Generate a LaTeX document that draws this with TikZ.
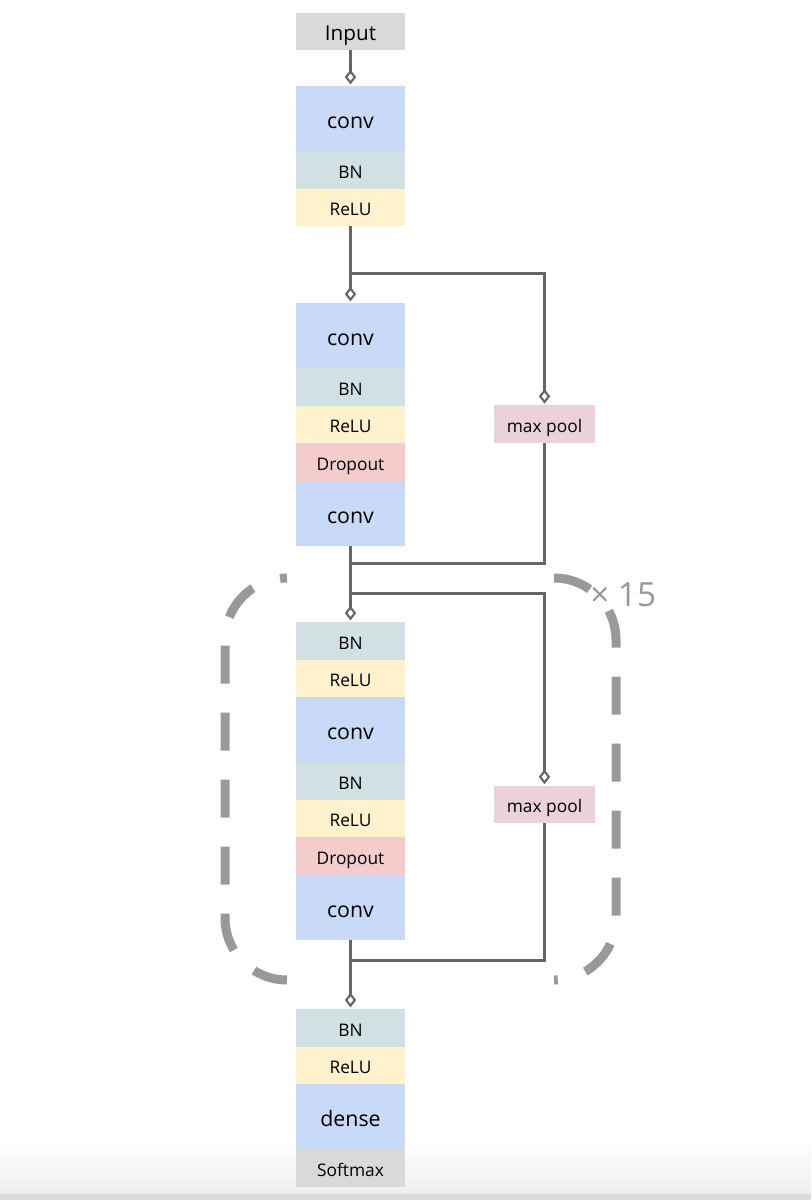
\documentclass[tikz,border=0pt]{standalone}
\usepackage{fontspec}
\setmainfont{Open Sans}
\usetikzlibrary{arrows.meta,positioning}
\definecolor{cconv}{HTML}{C9DAF8}
\definecolor{cbn}{HTML}{D0E0E3}
\definecolor{crelu}{HTML}{FFF2CC}
\definecolor{cdrop}{HTML}{F4CCCC}
\definecolor{cpool}{HTML}{EAD1DC}
\definecolor{cgrey}{HTML}{D9D9D9}
\definecolor{clink}{HTML}{666666}
\definecolor{crep}{HTML}{999999}
\definecolor{cfade}{HTML}{EEEEEE}
\definecolor{cedge}{HTML}{DCDCDC}

\begin{document}
\begin{tikzpicture}[x=0.75pt,y=-0.75pt,
    lay/.style={inner sep=0pt,outer sep=0pt,minimum width=81.75pt,
                minimum height=28.125pt,text height=12.5pt,text depth=0pt,
                font=\fontsize{13}{15}\selectfont},
    big/.style={lay,minimum height=48.75pt,fill=cconv,text height=15pt,
                font=\fontsize{16}{19}\selectfont},
    bnl/.style={lay,fill=cbn},
    relul/.style={lay,fill=crelu},
    dropl/.style={lay,fill=cdrop},
    greyl/.style={lay,fill=cgrey},
    pooll/.style={lay,fill=cpool,minimum width=75.75pt},
    link/.style={draw=clink,line width=2.25pt},
    feed/.style={link,-{Diamond[open,length=11pt,width=8.5pt,line width=1.6pt]},
                 shorten >=1.2pt},
    repbox/.style={draw=crep,line width=6.75pt,rounded corners=46.5pt,
                   dash pattern=on 28.5pt off 21.75pt}]
    \useasboundingbox (0,0) rectangle (811,1200);
    % screen edge
    \shade[top color=white,bottom color=cfade] (0,1140) rectangle (811,1194);
    \fill[cedge] (0,1194) rectangle (811,1200);

    % repeat bracket
    \draw[repbox,dash phase=23.25pt] (287,578) -- (225,578) -- (225,980) -- (287,980);
    \draw[repbox] (554,578) -- (616,578) -- (616,980) -- (554,980);
    \node[anchor=base west,inner sep=0pt,text=crep,font=\fontsize{25}{30}\selectfont]
        (times) at (590,606) {× 15};

    % input block
    \node[greyl,text height=13pt,font=\fontsize{15.5}{18}\selectfont] (in) at (350.5,31.5) {Input};
    \node[big,anchor=north] (conva) at (350.5,86) {conv};
    \node[bnl,below=0pt of conva] (bna) {BN};
    \node[relul,below=0pt of bna] (relua) {ReLU};

    % first residual block
    \node[big,anchor=north] (convb) at (350.5,303) {conv};
    \node[bnl,below=0pt of convb] (bnb) {BN};
    \node[relul,below=0pt of bnb] (relub) {ReLU};
    \node[dropl,below=0pt of relub] (dropb) {Dropout};
    \node[big,below=0pt of dropb] (convc) {conv};
    \node[pooll] (poola) at (544.5,424) {max pool};

    % repeated block
    \node[bnl,anchor=north] (bnc) at (350.5,622) {BN};
    \node[relul,below=0pt of bnc] (reluc) {ReLU};
    \node[big,below=0pt of reluc] (convd) {conv};
    \node[bnl,below=0pt of convd] (bnd) {BN};
    \node[relul,below=0pt of bnd] (relud) {ReLU};
    \node[dropl,below=0pt of relud] (dropd) {Dropout};
    \node[big,below=0pt of dropd] (conve) {conv};
    \node[pooll] (poolb) at (544.5,804.5) {max pool};

    % output block
    \node[bnl,anchor=north] (bne) at (350.5,1009) {BN};
    \node[relul,below=0pt of bne] (relue) {ReLU};
    \node[big,below=0pt of relue] (dense) {dense};
    \node[greyl,below=0pt of dense] (soft) {Softmax};

    % branch and merge points
    \coordinate (sa) at (350.5,273);
    \coordinate (ma) at (350.5,563);
    \coordinate (sb) at (350.5,593);
    \coordinate (mb) at (350.5,960);

    \foreach \a/\b in {in/conva,relua/convb,convc/bnc,conve/bne}
      \draw[feed] (\a.south) -- (\b.north);
    \draw[feed] (sa) -| (poola.north);
    \draw[feed] (sb) -| (poolb.north);
    \draw[link] (poola.south) |- (ma);
    \draw[link] (poolb.south) |- (mb);
\end{tikzpicture}
\end{document}
